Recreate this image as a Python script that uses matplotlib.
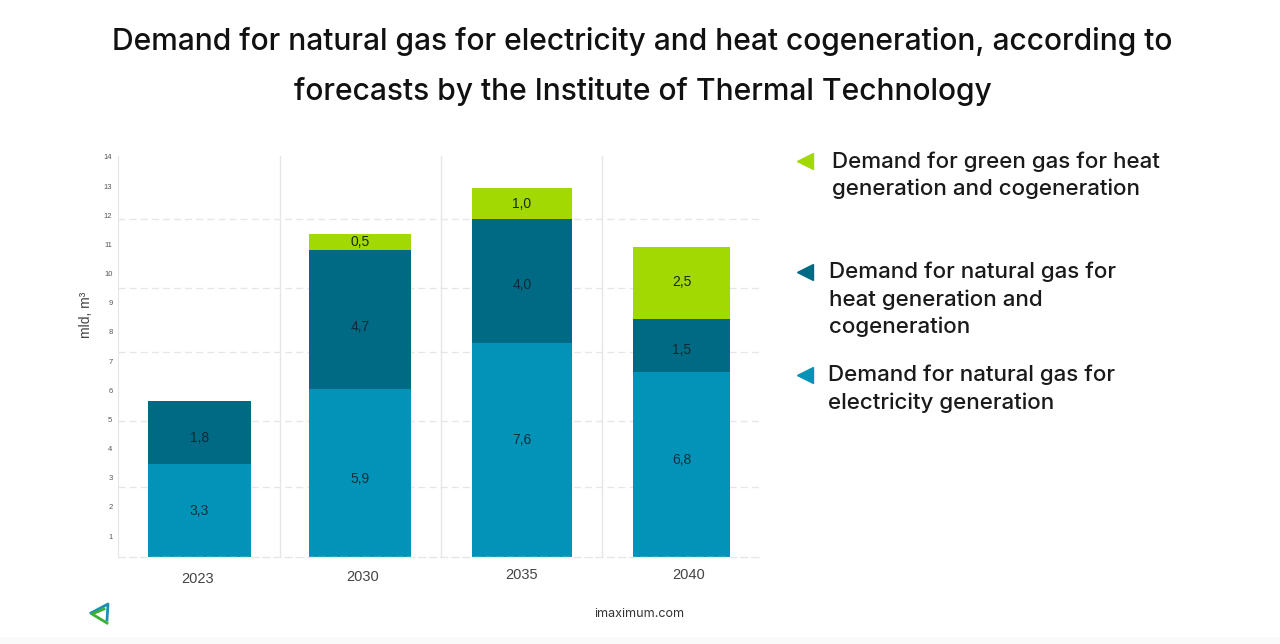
import matplotlib
matplotlib.use("Agg")
import matplotlib.pyplot as plt
from matplotlib.lines import Line2D
from matplotlib.patches import Rectangle

W, H = 1280, 644

# data
years = ["2023", "2030", "2035", "2040"]
# heights, these are not quite the printed numbers
electricity = [3.18, 5.75, 7.33, 6.34]
natural_heat = [2.16, 4.76, 4.25, 1.82]
green_heat = [0, 0.58, 1.06, 2.47]
electricity_labels = ["3,3", "5,9", "7,6", "6,8"]
natural_heat_labels = ["1,8", "4,7", "4,0", "1,5"]
green_heat_labels = ["", "0,5", "1,0", "2,5"]
y_ticks = list(range(1, 15))

title_lines = ["Demand for natural gas for electricity and heat cogeneration, according to",
               "forecasts by the Institute of Thermal Technology"]
legend_green = ["Demand for green gas for heat", "generation and cogeneration"]
legend_natural = ["Demand for natural gas for", "heat generation and", "cogeneration"]
legend_electric = ["Demand for natural gas for", "electricity generation"]

BLUE = "#0393b9"
TEAL = "#006a84"
GREEN = "#a2d902"
GRID = "#e6e6e6"
FONT = "Inter"
ARIAL = "Liberation Sans"


def fx(px):
    return px / W


def fy(py):
    return 1 - py / H


def put_text(px, py, s, size, color="#1a1a1a", ha="left", family=FONT, **kw):
    fig.text(fx(px), fy(py), s, fontsize=size, color=color, ha=ha, va="center", family=family, **kw)


fig = plt.figure(figsize=(W / 100, H / 100), dpi=100, facecolor="white")

# faint strip along the bottom edge of the screenshot
fig.add_artist(Rectangle((0, 0), 1, 7 / H, color="#fafafa", lw=0, transform=fig.transFigure))

############ CHART ############
ax = fig.add_axes([fx(118), fy(557), fx(762 - 118), (557 - 156) / H])
base = 0.28
ax.set_xlim(-0.506, 3.494)
ax.set_ylim(base, 14.03)
px_per_unit = 29.2

for v in [2.68, 4.94, 7.30, 9.49, 11.86]:
    ax.axhline(v, color=GRID, lw=1, ls=(0, (5, 3)), zorder=1)
for x in [0.5, 1.5, 2.5]:
    ax.axvline(x, color=GRID, lw=1, zorder=1)

# bars are not evenly placed or equally wide in the original
pos = [0, 0.997, 2.003, 2.994]
widths = [0.64, 0.634, 0.621, 0.602]
b1 = [base] * len(years)
b2 = [a + b for a, b in zip(b1, electricity)]
b3 = [a + b for a, b in zip(b2, natural_heat)]
ax.bar(pos, electricity, bottom=b1, width=widths, color=BLUE, zorder=2)
ax.bar(pos, natural_heat, bottom=b2, width=widths, color=TEAL, zorder=2)
ax.bar(pos, green_heat, bottom=b3, width=widths, color=GREEN, zorder=2)

# printed numbers are not centred in their segments, offsets in pixels (+ is down)
elec_off = [0, 6, -10, -5]
nat_off = [5, 7, 4, 4]
green_off = [0, 0, 0, -1]
for i in range(len(years)):
    ax.text(pos[i], b1[i] + electricity[i] / 2 - elec_off[i] / px_per_unit, electricity_labels[i],
            ha="center", va="center", fontsize=10, color="#10303c", family=ARIAL, zorder=3)
    ax.text(pos[i], b2[i] + natural_heat[i] / 2 - nat_off[i] / px_per_unit, natural_heat_labels[i],
            ha="center", va="center", fontsize=10, color="#0d2b36", family=ARIAL, zorder=3)
    if green_heat_labels[i]:
        ax.text(pos[i], b3[i] + green_heat[i] / 2 - green_off[i] / px_per_unit, green_heat_labels[i],
                ha="center", va="center", fontsize=10, color="#1a2a10", family=ARIAL, zorder=3)

ax.set_yticks(y_ticks)
ax.set_yticklabels([str(t) for t in y_ticks], fontsize=5.5, color="#555555", family=ARIAL)
ax.tick_params(axis="y", length=0, pad=4)
ax.set_xticks([])
for s in ["top", "right"]:
    ax.spines[s].set_visible(False)
ax.spines["left"].set_color(GRID)
ax.spines["left"].set_linestyle((0, (1, 1)))
ax.spines["bottom"].set_color(GRID)
ax.spines["bottom"].set_linestyle((0, (5, 3)))
ax.spines["bottom"].set_linewidth(1)

put_text(86, 315, "mld, m³", 10, color="#444444", ha="center", rotation=90, family=ARIAL)

# year labels do not sit on one line in the original
for s, px, py in zip(years, [198, 363, 522, 689], [579, 577, 575, 575]):
    put_text(px, py, s, 10.5, color="#444444", ha="center", family=ARIAL)

############ TITLE ############
put_text(642.5, 41, title_lines[0], 21.6, color="#111111", ha="center", weight="medium")
put_text(642.5, 91, title_lines[1], 21.6, color="#111111", ha="center", weight="medium")

############ LEGEND ############
def legend_block(mark_y, color, text_x, lines, ys):
    fig.add_artist(Line2D([fx(805)], [fy(mark_y)], marker="<", ms=11.5, color=color, mec=color, mew=1,
                          ls="none", transform=fig.transFigure))
    for s, py in zip(lines, ys):
        put_text(text_x, py, s, 16.1, weight="medium")


legend_block(161, GREEN, 832, legend_green, [162, 189])
legend_block(272, TEAL, 829, legend_natural, [272, 300, 327])
legend_block(375, BLUE, 828, legend_electric, [375, 403])

############ FOOTER ############
put_text(639, 614, "imaximum.com", 9, color="#333333", ha="center")

# small arrow logo
fig.add_artist(Line2D([fx(x) for x in (107, 108, 91)], [fy(y) for y in (620, 604, 613)], color="#1b8fb5", lw=2,
                      transform=fig.transFigure))
fig.add_artist(Line2D([fx(x) for x in (107, 92, 104)], [fy(y) for y in (623, 614, 609)], color="#3cb034", lw=2,
                      transform=fig.transFigure))

fig.savefig("out.png", dpi=100)
